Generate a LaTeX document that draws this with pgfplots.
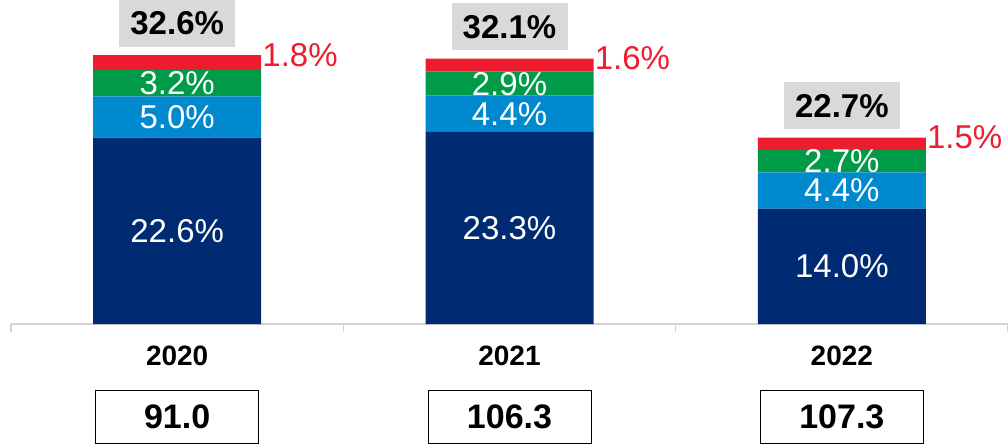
\documentclass[border=0pt]{standalone}
\usepackage{pgfplots}
\pgfplotsset{compat=1.18}
\usepackage{fontspec}
\setmainfont{Liberation Sans}
\definecolor{cnavy}{RGB}{0,43,115}
\definecolor{cblue}{RGB}{0,137,207}
\definecolor{cgreen}{RGB}{0,155,72}
\definecolor{cred}{RGB}{237,28,46}
\definecolor{cgreybox}{RGB}{217,217,217}
\definecolor{caxis}{RGB}{210,210,210}
\newcommand\fbig{\fontsize{33}{37}\selectfont}
\newcommand\fvalbox{\fontsize{34}{38}\selectfont}
\begin{document}
\begin{tikzpicture}
\useasboundingbox (0,0) rectangle (1008pt,444pt);
\begin{axis}[
  at={(11pt,120pt)}, anchor=south west,
  width=997pt, height=324pt, scale only axis, clip=false,
  ybar stacked, bar width=168pt,
  xmin=-0.5, xmax=2.5, ymin=0, ymax=39.3,
  axis x line=bottom, axis y line=none,
  x axis line style={draw=caxis, line width=1.5pt, -},
  xtick={0,1,2}, xticklabels={2020,2021,2022},
  major tick length=0pt,
  minor xtick={-0.5,0.5,1.5,2.5}, minor tick length=8pt,
  tick align=outside,
  tick style={draw=caxis, line width=1.5pt},
  xticklabel style={font=\fontsize{28}{30}\selectfont\bfseries, yshift=-18pt},
]
\addplot[fill=cnavy, draw=none] coordinates {(0,22.6) (1,23.3) (2,14.0)};
\addplot[fill=cblue, draw=none] coordinates {(0,5.0) (1,4.4) (2,4.4)};
\addplot[fill=cgreen, draw=none] coordinates {(0,3.2) (1,2.9) (2,2.7)};
\addplot[fill=cred, draw=none] coordinates {(0,1.8) (1,1.6) (2,1.5)};
% anchor points for segment labels
\coordinate (a1) at (axis cs:0,11.3);
\coordinate (a2) at (axis cs:0,25.1);
\coordinate (a3) at (axis cs:0,29.2);
\coordinate (b1) at (axis cs:1,11.65);
\coordinate (b2) at (axis cs:1,25.5);
\coordinate (b3) at (axis cs:1,29.15);
\coordinate (c1) at (axis cs:2,7.0);
\coordinate (c2) at (axis cs:2,16.2);
\coordinate (c3) at (axis cs:2,19.75);
% red labels
\node[text=cred, font=\fbig, anchor=west, inner sep=1pt] at (axis cs:0.253,32.6) {1.8\%};
\node[text=cred, font=\fbig, anchor=west, inner sep=1pt] at (axis cs:1.253,32.2) {1.6\%};
\node[text=cred, font=\fbig, anchor=west, inner sep=1pt] at (axis cs:2.253,22.6) {1.5\%};
% totals
\node[fill=cgreybox, font=\fbig\bfseries, anchor=south, minimum width=116pt, minimum height=47pt, yshift=8pt] at (axis cs:0,32.6) {32.6\%};
\node[fill=cgreybox, font=\fbig\bfseries, anchor=south, minimum width=116pt, minimum height=47pt, yshift=8pt] at (axis cs:1,32.2) {32.1\%};
\node[fill=cgreybox, font=\fbig\bfseries, anchor=south, minimum width=116pt, minimum height=47pt, yshift=8pt] at (axis cs:2,22.6) {22.7\%};
% value boxes
\node[draw=black, line width=1pt, font=\fvalbox\bfseries, minimum width=163pt, minimum height=53pt, yshift=-92.5pt] at (axis cs:0,0) {91.0};
\node[draw=black, line width=1pt, font=\fvalbox\bfseries, minimum width=163pt, minimum height=53pt, yshift=-92.5pt] at (axis cs:1,0) {106.3};
\node[draw=black, line width=1pt, font=\fvalbox\bfseries, minimum width=163pt, minimum height=53pt, yshift=-92.5pt] at (axis cs:2,0) {107.3};
\end{axis}
\begin{scope}[every node/.style={text=white, font=\fbig}]
\node at (a1) {22.6\%};
\node at (a2) {5.0\%};
\node at (a3) {3.2\%};
\node at (b1) {23.3\%};
\node at (b2) {4.4\%};
\node at (b3) {2.9\%};
\node at (c1) {14.0\%};
\node at (c2) {4.4\%};
\node at (c3) {2.7\%};
\end{scope}
\end{tikzpicture}
\end{document}
